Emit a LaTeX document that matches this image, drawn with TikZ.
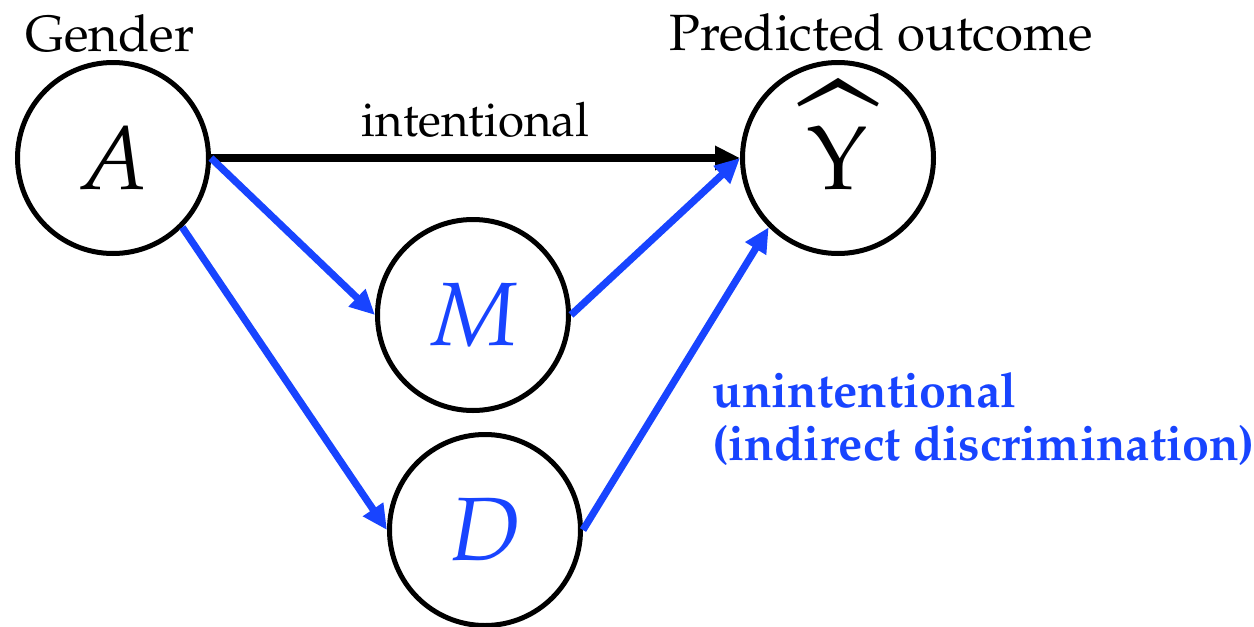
\documentclass[tikz,border=0pt]{standalone}
\usepackage[T1]{fontenc}
\usepackage{mathpazo}
\usepackage{graphicx}
\usetikzlibrary{arrows.meta}
\definecolor{ublue}{RGB}{24,68,255}
\newcommand{\bighatY}{\ooalign{$\Upsilon$\cr\hidewidth\smash{\raisebox{-0.06em}{\scalebox{1.6}[1.75]{$\widehat{\mkern0mu}$}}}\hidewidth\cr}}
\tikzset{
  var/.style={circle, draw=black, line width=2.5pt, minimum size=95.5pt, inner sep=0pt, font=\fontsize{45}{50}\selectfont},
  arr/.style={line width=3.6pt, -{Triangle[length=12.5pt,width=11.5pt]}},
  title/.style={anchor=base, inner sep=0pt, font=\fontsize{25.5}{30}\selectfont},
}
\begin{document}
\begin{tikzpicture}[x=0.5pt,y=-0.5pt]
\useasboundingbox (0,0) rectangle (1254,627);
\node[var] (A) at (113,158) {$A$};
\node[var] (Y) at (838,158) {\bighatY};
\node[var, text=ublue] (M) at (473,315) {$M$};
\node[var, text=ublue] (D) at (485,530) {$D$};
\node[title] (gender) at (110,51) {Gender};
\node[title] (pred) at (881,50) {Predicted outcome};
\draw[arr, black, line width=4pt] (A.east) -- node[above=8pt, font=\fontsize{23.7}{28}\selectfont, inner sep=0pt] (lint) {intentional} (Y.west);
\draw[arr, ublue] (A.east) -- (M.west);
\draw[arr, ublue] (M.east) -- (Y.west);
\draw[arr, ublue] (A.south east) -- (D.west);
\draw[arr, ublue] (D.east) -- (Y.south west);
\node[anchor=base west, inner sep=0pt, text=ublue, align=left, font=\bfseries\fontsize{24.25}{26.5}\selectfont] (lun) at (712,460) {unintentional\\(indirect discrimination)};
\end{tikzpicture}
\end{document}
